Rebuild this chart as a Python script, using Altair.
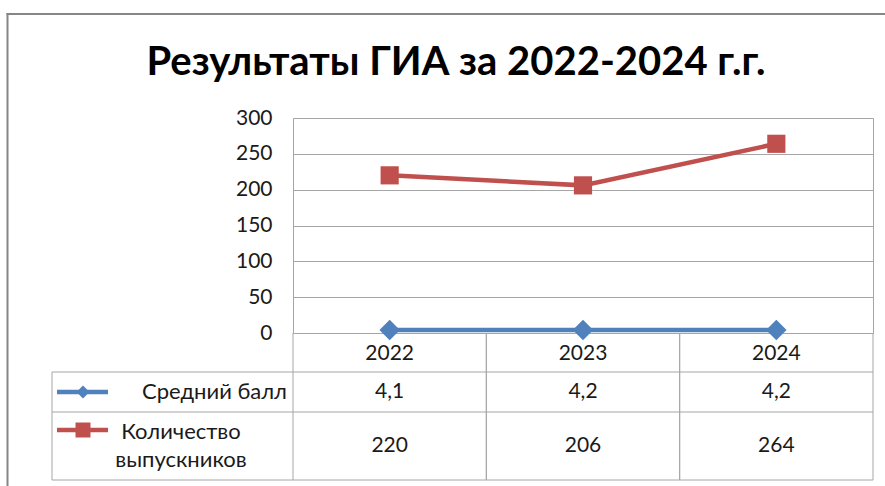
import altair as alt
import pandas as pd

# ---- data ----
years = ["2022", "2023", "2024"]
series = ["Средний балл", "Количество выпускников"]
avg_score = [4.1, 4.2, 4.2]
graduates = [220, 206, 264]
avg_labels = ["4,1", "4,2", "4,2"]
grad_labels = ["220", "206", "264"]
title_text = "Результаты ГИА за 2022-2024 г.г."
y_ticks = [0, 50, 100, 150, 200, 250, 300]

# ---- style ----
BLUE = "#4F81BD"
RED = "#C0504D"
GRID = "#A6A6A6"
FRAME = "#868686"
TEXT = "#1a1a1a"
FONT = "Lato"
FS = 21
W, H = 580, 215

rows = []
for s, vals, labs in [(series[0], avg_score, avg_labels), (series[1], graduates, grad_labels)]:
    for yr, v, l in zip(years, vals, labs):
        rows.append({"year": yr, "series": s, "value": v, "label": l})
df = pd.DataFrame(rows)
years_df = pd.DataFrame({"year": years})
one = years_df.iloc[:1]
legend_df = pd.DataFrame({"series": series,
                          "text": [series[0], series[1].replace(" ", "\n")]})

xscale = alt.Scale(type="band", domain=years, paddingInner=0, paddingOuter=0)
color_enc = alt.Color("series:N", scale=alt.Scale(domain=series, range=[BLUE, RED]), legend=None)

x_axis = alt.Axis(title=None, labelAngle=0, domain=False, ticks=False, tickSize=0,
                  labelPadding=20, labelBaseline="middle", labelFont=FONT,
                  labelFontSize=FS, labelColor=TEXT, grid=False)
y_main = alt.Y("value:Q", scale=alt.Scale(domain=[0, 300], nice=False),
               axis=alt.Axis(title=None, values=y_ticks, domain=False, ticks=False,
                             labelPadding=21, labelFont=FONT, labelFontSize=FS,
                             labelColor=TEXT, grid=True, gridColor=GRID, gridWidth=1,
                             gridOpacity=1))

def xcol(bp):
    return alt.X("year:N", scale=xscale, bandPosition=bp, axis=x_axis)

base = alt.Chart(df).encode(x=xcol(0.5), y=y_main, color=color_enc)
lines = base.mark_line(strokeWidth=4.5)
points = base.mark_point(filled=True, opacity=1).encode(
    shape=alt.Shape("series:N", scale=alt.Scale(domain=series, range=["diamond", "square"]), legend=None),
    size=alt.Size("series:N", scale=alt.Scale(domain=series, range=[420, 330]), legend=None),
)

# ---- data table structure ----
TOP1, MID, BOT = 254, 294, 362
LEFT = -241
vrule0 = alt.Chart(years_df).mark_rule(color=GRID, strokeWidth=1).encode(
    x=xcol(0), y=alt.value(H), y2=alt.value(BOT))
vrule1 = alt.Chart(years_df).mark_rule(color=GRID, strokeWidth=1).encode(
    x=xcol(1), y=alt.value(H), y2=alt.value(BOT))
hrules = [alt.Chart(one).mark_rule(color=GRID, strokeWidth=1).encode(
    x=alt.value(LEFT), x2=alt.value(W), y=alt.value(yy)) for yy in (TOP1, MID, BOT)]
left_edge = alt.Chart(one).mark_rule(color=GRID, strokeWidth=1).encode(
    x=alt.value(LEFT), y=alt.value(TOP1), y2=alt.value(BOT))

ROW1 = (TOP1 + MID) / 2
ROW2 = (MID + BOT) / 2
val1 = alt.Chart(df[df.series == series[0]]).mark_text(
    font=FONT, fontSize=FS, color=TEXT, baseline="middle").encode(
    x=xcol(0.5), y=alt.value(ROW1), text="label:N")
val2 = alt.Chart(df[df.series == series[1]]).mark_text(
    font=FONT, fontSize=FS, color=TEXT, baseline="middle").encode(
    x=xcol(0.5), y=alt.value(ROW2), text="label:N")

# ---- legend cells ----
L1Y, L2Y = ROW1, 312
LH = 28
leg1 = legend_df[legend_df.series == series[0]]
leg2 = legend_df[legend_df.series == series[1]]
leg_line1 = alt.Chart(leg1).mark_rule(strokeWidth=4.5).encode(
    x=alt.value(-236), x2=alt.value(-185), y=alt.value(L1Y), color=color_enc)
leg_line2 = alt.Chart(leg2).mark_rule(strokeWidth=4.5).encode(
    x=alt.value(-236), x2=alt.value(-185), y=alt.value(L2Y), color=color_enc)
leg_sym1 = alt.Chart(leg1).mark_point(filled=True, opacity=1, shape="diamond", size=170).encode(
    x=alt.value(-210), y=alt.value(L1Y), color=color_enc)
leg_sym2 = alt.Chart(leg2).mark_point(filled=True, opacity=1, shape="square", size=225).encode(
    x=alt.value(-210), y=alt.value(L2Y), color=color_enc)
leg_txt1 = alt.Chart(leg1).mark_text(font=FONT, fontSize=22, color=TEXT, align="right",
                                     baseline="middle").encode(
    x=alt.value(-6), y=alt.value(L1Y), text="text:N")
leg_txt2 = alt.Chart(leg2).mark_text(font=FONT, fontSize=22, color=TEXT, align="center",
                                     baseline="middle", lineBreak="\n", lineHeight=LH).encode(
    x=alt.value(-112), y=alt.value(ROW2 - LH / 2), text="text:N")

# ---- title & outer frame (left and top edges only; the rest is cut off) ----
title = alt.Chart(one).mark_text(font=FONT, fontSize=40, fontWeight="bold", color="black",
                                 align="center", baseline="alphabetic").encode(
    x=alt.value(163), y=alt.value(-43), text=alt.value(title_text))
frame_left = alt.Chart(one).mark_rule(color=FRAME, strokeWidth=2).encode(
    x=alt.value(-285.5), y=alt.value(-105), y2=alt.value(H + 160))
frame_top = alt.Chart(one).mark_rule(color=FRAME, strokeWidth=2).encode(
    x=alt.value(-286.5), x2=alt.value(W + 12), y=alt.value(-104))

chart = alt.layer(
    frame_left, frame_top, *hrules, left_edge, vrule0, vrule1, val1, val2,
    leg_line1, leg_line2, leg_sym1, leg_sym2, leg_txt1, leg_txt2,
    lines, points, title,
).properties(
    width=W, height=H,
    padding={"left": 293, "top": 118, "right": 12, "bottom": 153},
    autosize=alt.AutoSizeParams(type="none"),
    background="white",
).configure_view(stroke=GRID, strokeWidth=1)

chart.save("out.html", embed_options={"renderer": "svg", "actions": False})
